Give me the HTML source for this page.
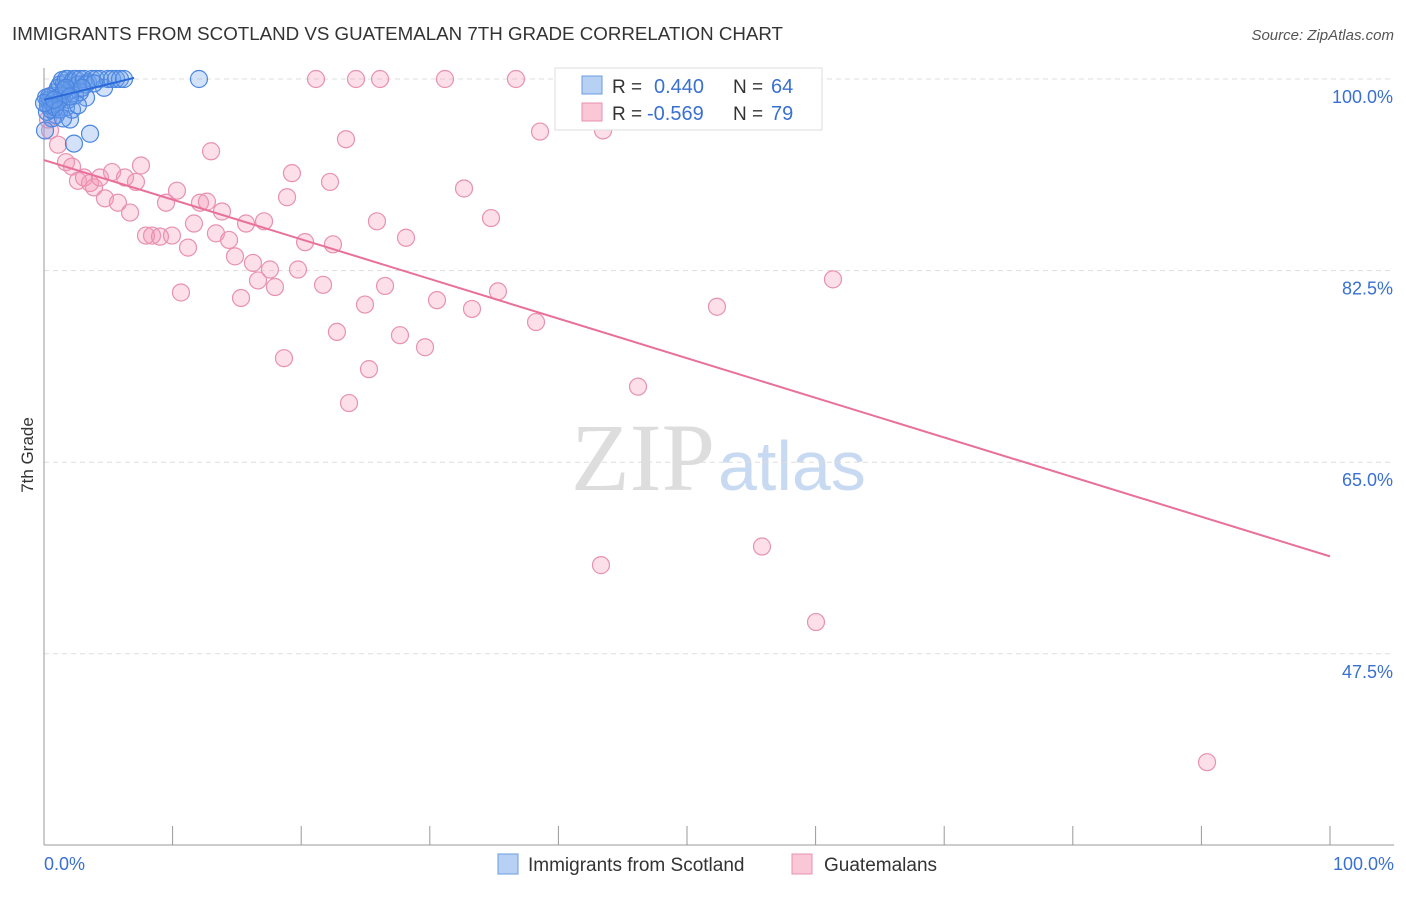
<!DOCTYPE html>
<html><head><meta charset="utf-8"><style>
body{margin:0;background:#fff;font-family:"Liberation Sans",sans-serif;}
</style></head><body>
<svg id="chart" width="1406" height="892" xmlns="http://www.w3.org/2000/svg" font-family="Liberation Sans, sans-serif">
<text x="12" y="40" font-size="18" fill="#333" textLength="771" lengthAdjust="spacingAndGlyphs">IMMIGRANTS FROM SCOTLAND VS GUATEMALAN 7TH GRADE CORRELATION CHART</text>
<text x="1394" y="40" font-size="15" fill="#555" text-anchor="end" font-style="italic">Source: ZipAtlas.com</text>
<text transform="translate(33,455) rotate(-90)" font-size="17" fill="#333" text-anchor="middle">7th Grade</text>
<text x="715" y="490" font-size="96" text-anchor="end" fill="#ddd" font-family="Liberation Serif, serif">ZIP</text>
<text x="718" y="490" font-size="70" fill="#c8daf2">atlas</text>
<g id="grid"></g><g id="pts"></g><g id="lines"></g>
<g>
<rect x="555" y="68" width="267" height="62" fill="#fff" stroke="#ddd"/>
<rect x="582" y="76" width="20" height="18" fill="#b7d0f4" stroke="#6a9be0"/>
<rect x="582" y="103" width="20" height="18" fill="#f9c7d6" stroke="#e891b0"/>
<text x="612" y="93" font-size="19" fill="#333">R =</text>
<text x="654" y="93" font-size="20" fill="#3a70d0">0.440</text>
<text x="733" y="93" font-size="19" fill="#333">N =</text>
<text x="771" y="93" font-size="20" fill="#3a70d0">64</text>
<text x="612" y="120" font-size="19" fill="#333">R =</text>
<text x="647" y="120" font-size="20" fill="#3a70d0">-0.569</text>
<text x="733" y="120" font-size="19" fill="#333">N =</text>
<text x="771" y="120" font-size="20" fill="#3a70d0">79</text>
</g>
<g>
<rect x="498" y="854" width="20" height="20" fill="#b7d0f4" stroke="#6a9be0"/>
<text x="528" y="871" font-size="19" fill="#333">Immigrants from Scotland</text>
<rect x="792" y="854" width="20" height="20" fill="#f9c7d6" stroke="#e891b0"/>
<text x="824" y="871" font-size="19" fill="#333">Guatemalans</text>
</g>
</svg>
<script>
const yTicks=[100,82.5,65,47.5];
const xLabels=["0.0%","100.0%"];
const blueX=[0.31,0.47,0.62,0.78,0.93,1.09,1.24,1.4,1.56,1.71,1.87,2.02,2.18,2.33,2.49,2.64,2.8,3.11,3.27,3.42,3.73,4.04,4.35,4.67,4.98,5.29,5.6,5.91,6.22,12.05,3.58,2.33,2.02,1.71,1.24,0.93,0.62,0.47,0.31,0.16,0.23,0.7,1.01,1.4,1.87,2.41,2.8,3.27,3.89,1.56,1.09,0.39,0.54,0.86,1.24,2.18,2.64,0,0.08,1.71,2.95,2.02,1.48,0.78];
const blueY=[98.1,97.6,98.5,97.2,98.8,99.2,99.5,99.9,99.6,100,100,99.0,99.7,100,100,99.5,100,100,98.3,99.7,100,100,100,99.2,100,100,100,100,100,100,95.0,94.1,96.3,97.4,98.1,96.7,96.4,98.1,97.6,98.3,97.0,97.7,98.3,98.5,98.1,98.5,98.8,99.5,99.6,99.0,97.9,98.4,97.2,97.4,97.2,97.2,97.6,97.8,95.3,99.2,99.2,98.4,96.4,98.1];
const pinkX=[0.47,1.09,1.71,2.18,2.64,3.11,3.58,3.89,4.35,4.74,5.29,5.75,6.3,6.69,7.15,7.54,7.93,8.4,9.02,9.49,9.95,10.34,10.65,11.2,11.66,12.13,12.67,12.99,13.37,13.84,14.39,14.85,15.32,15.71,16.25,16.64,17.11,17.57,17.96,18.66,18.9,19.28,19.75,20.3,21.15,21.7,22.24,22.47,22.78,23.48,23.72,24.26,24.96,25.27,25.89,26.13,26.52,27.68,28.15,29.63,30.56,31.18,32.66,33.28,34.76,35.3,36.7,38.26,38.57,43.31,43.47,46.19,52.33,55.83,58.55,60.03,61.35,90.44,0.31];
const pinkY=[95.3,94.0,92.4,92.0,90.7,91.0,90.5,90.1,91.0,89.1,91.5,88.7,91.0,87.8,90.6,92.1,85.7,85.7,85.6,88.7,85.7,89.8,80.5,84.6,86.8,88.7,88.8,93.4,85.9,87.9,85.3,83.8,80.0,86.8,83.2,81.6,87.0,82.6,81.0,74.5,89.2,91.4,82.6,85.1,100,81.2,90.6,84.9,76.9,94.5,70.4,100,79.4,73.5,87.0,100,81.1,76.6,85.5,75.5,79.8,100,90.0,79.0,87.3,80.6,100,77.8,95.2,55.6,95.3,71.9,79.2,57.3,100,50.4,81.7,37.6,96.3];
const blueLine=[[0,98.1],[7,100.1]];
const pinkLine=[[0,92.6],[100,56.4]];
const NS="http://www.w3.org/2000/svg";
const sx=v=>44+v*12.86, sy=v=>79+(100-v)*191.6/17.5;
function mk(t,a,p){const e=document.createElementNS(NS,t);for(const k in a)e.setAttribute(k,a[k]);p.appendChild(e);return e;}
const grid=document.getElementById('grid');
yTicks.forEach(t=>{
 const l=mk('line',{x1:44,x2:1394,y1:sy(t),y2:sy(t),stroke:'#ddd','stroke-dasharray':'5,4'},grid);
 
 
 const tx=mk('text',{x:1393,y:sy(t)+24,'font-size':18,fill:'#3a70d0','text-anchor':'end'},grid);
 tx.textContent=t.toFixed(1)+'%';
 
 
});
const ax=mk('line',{x1:44,x2:44,y1:68,y2:845,stroke:'#999'},grid);


const bx=mk('line',{x1:44,x2:1394,y1:845,y2:845,stroke:'#999'},grid);


for(let i=1;i<=10;i++){const t=mk('line',{x1:sx(i*10),x2:sx(i*10),y1:826,y2:845,stroke:'#999'},grid);
 
 }
[[0,'start',44],[1,'end',1394]].forEach(([i,a,x])=>{const t=mk('text',{x:x,y:870,'font-size':18,fill:'#3a70d0','text-anchor':a},grid);t.textContent=xLabels[i];
 
 });
const pts=document.getElementById('pts');
pinkX.forEach((x,i)=>{const c=mk('circle',{cx:sx(x),cy:sy(pinkY[i]),r:8.5,fill:'rgba(244,150,180,0.3)',stroke:'#e891b0','stroke-width':1.2},pts);
 
 });
blueX.forEach((x,i)=>{const c=mk('circle',{cx:sx(x),cy:sy(blueY[i]),r:8.5,fill:'rgba(110,160,235,0.3)',stroke:'#4a86e0','stroke-width':1.2},pts);
 
 });
const lines=document.getElementById('lines');
const pl=mk('line',{x1:sx(pinkLine[0][0]),y1:sy(pinkLine[0][1]),x2:sx(pinkLine[1][0]),y2:sy(pinkLine[1][1]),stroke:'#e8709a','stroke-width':2},lines);


const bl=mk('line',{x1:sx(blueLine[0][0]),y1:sy(blueLine[0][1]),x2:sx(blueLine[1][0]),y2:sy(blueLine[1][1]),stroke:'#2a6ad8','stroke-width':2},lines);


</script>
</body></html>
